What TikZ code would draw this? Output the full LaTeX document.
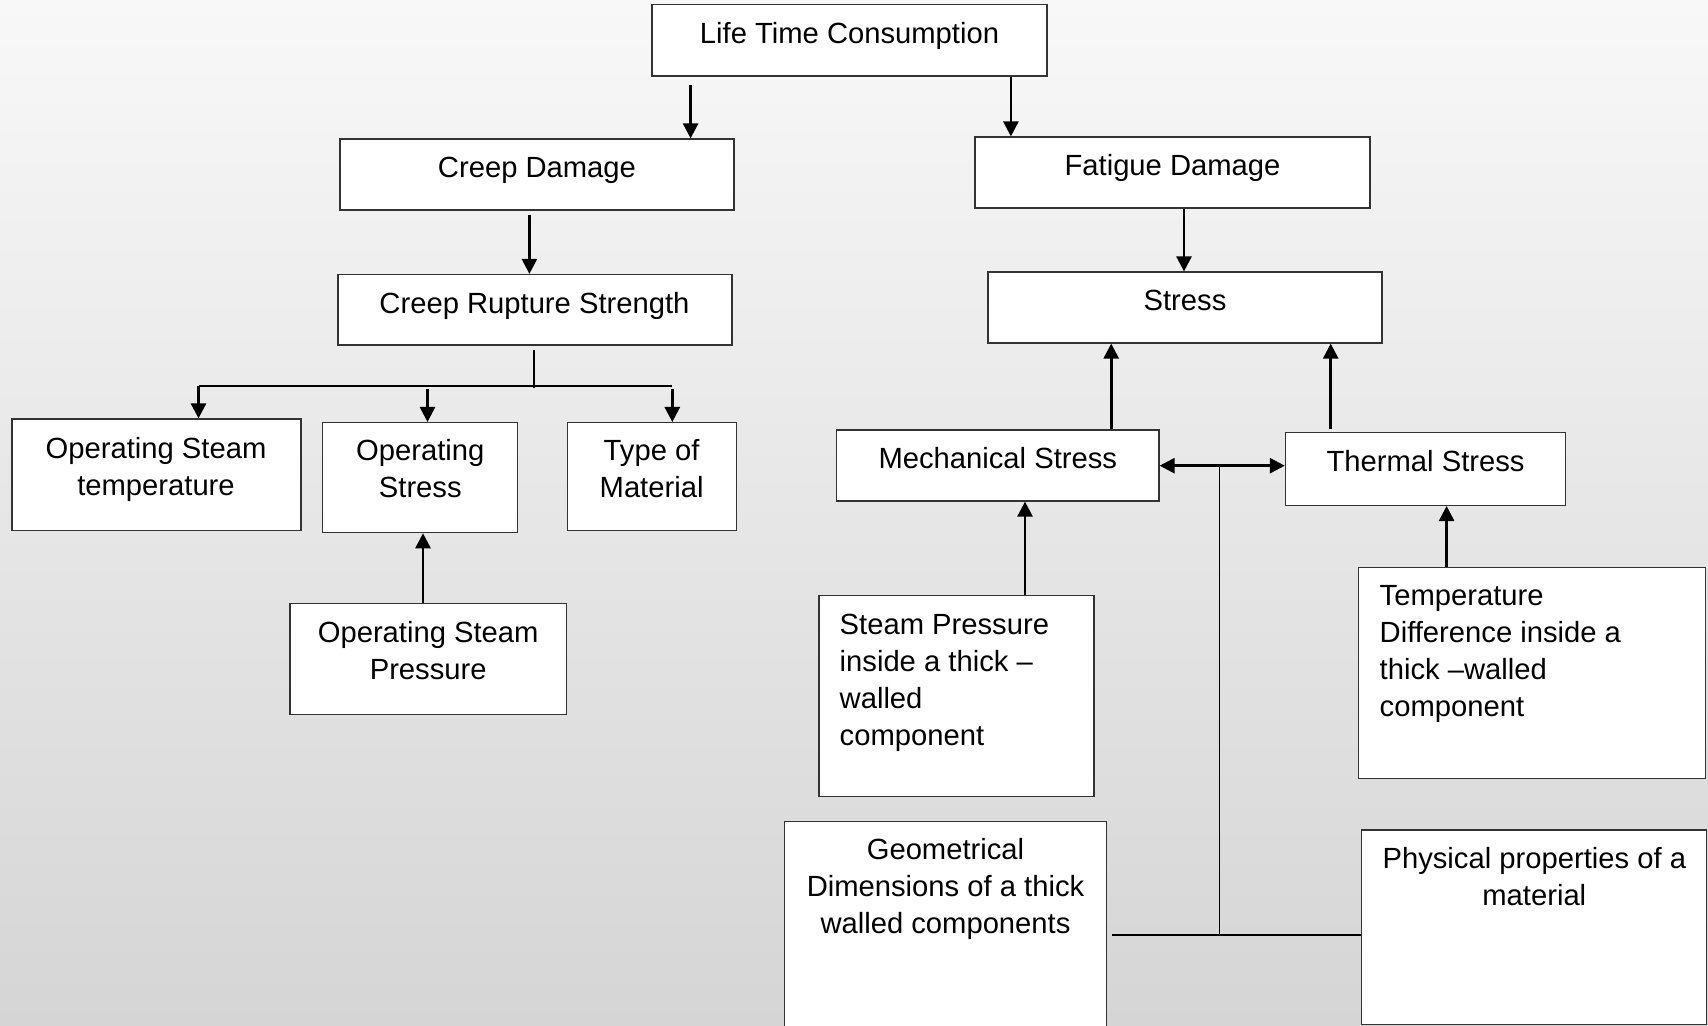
\documentclass[tikz,border=0pt]{standalone}
\usepackage{fontspec}
\setmainfont{Liberation Sans}
\usetikzlibrary{arrows.meta,fit}
\definecolor{bgtop}{RGB}{248,248,248}
\definecolor{bgbot}{RGB}{213,213,213}
\newcommand\dfont{\fontsize{14.6pt}{18.65pt}\selectfont}
\begin{document}
\begin{tikzpicture}[x=0.5pt,y=-0.5pt,
  box/.style={draw=black!80, line width=0.6pt, fill=white, inner sep=0pt},
  txt/.style={font=\dfont, inner sep=0pt, align=center, anchor=base},
  ltxt/.style={font=\dfont, inner sep=0pt, align=left, anchor=base west},
  arr/.style={line width=1.3pt, -{Triangle[length=7.5pt,width=7.5pt]}},
  darr/.style={line width=1.3pt, {Triangle[length=7.5pt,width=7.5pt]}-{Triangle[length=7.5pt,width=7.5pt]}},
  thin line/.style={line width=0.7pt},
  thick line/.style={line width=1.1pt}
]
\useasboundingbox (0,0) rectangle (1708,1026);
\clip (0,0) rectangle (1708,1026);
\shade[top color=bgtop, bottom color=bgbot] (0,0) rectangle (1708,1026);

% boxes
\node[box, fit={(652,4.5) (1047,76)}] (LTC) {};
\node[box, fit={(340,139) (734,210)}] (CD) {};
\node[box, fit={(975,137) (1370,208)}] (FD) {};
\node[box, fit={(338,274.5) (732,345)}] (CRS) {};
\node[box, fit={(988,272) (1382,343)}] (ST) {};
\node[box, fit={(12,419) (301,530.5)}] (OST) {};
\node[box, fit={(322.5,422.6) (517.5,532.7)}] (OS) {};
\node[box, fit={(567.5,422.6) (736.4,530.5)}] (TM) {};
\node[box, fit={(290,603.5) (566.4,714.6)}] (OSP) {};
\node[box, fit={(836.6,430) (1159,501)}] (MS) {};
\node[box, fit={(1285.4,432.5) (1565.3,505.4)}] (TS) {};
\node[box, fit={(819,595.7) (1094,796.3)}] (SP) {};
\node[box, fit={(1358.3,567.3) (1705.7,778.3)}] (TD) {};
\node[box, fit={(784.3,821.3) (1106.7,1040)}] (GD) {};
\node[box, fit={(1361.6,830) (1706.5,1024.5)}] (PP) {};

% texts (base anchor = baseline of last line)
\node[txt] (LTCt) at (849.5,43.3) {Life Time Consumption};
\node[txt] (CDt) at (537,178) {Creep Damage};
\node[txt] (FDt) at (1172.5,176) {Fatigue Damage};
\node[txt] (CRSt) at (534.5,313.5) {Creep Rupture Strength};
\node[txt] (STt) at (1185,311) {Stress};
\node[txt] (OSTt) at (156,495.6) {Operating Steam\\temperature};
\node[txt] (OSt) at (420.3,497.9) {Operating\\Stress};
\node[txt] (TMt) at (651.6,497.9) {Type of\\Material};
\node[txt] (OSPt) at (428.2,679.7) {Operating Steam\\Pressure};
\node[txt] (MSt) at (997.8,468) {Mechanical Stress};
\node[txt] (TSt) at (1425.6,471.4) {Thermal Stress};
\node[ltxt] (SPt) at (839.3,745.9) {Steam Pressure\\inside a thick –\\walled\\component};
\node[ltxt] (TDt) at (1379.3,716.9) {Temperature\\Difference inside a\\thick –walled\\component};
\node[txt] (GDt) at (945.5,933.8) {Geometrical\\Dimensions of a thick\\walled components};
\node[txt] (PPt) at (1534.3,905.3) {Physical properties of a\\material};

% junction coordinates
\coordinate (br) at (533.8,385.7);
\coordinate (brL) at (198.5,385.7);
\coordinate (brR) at (672.3,385.7);
\coordinate (jt) at (1219.5,465.7);
\coordinate (jb) at (1219.5,935.3);

% connectors
\draw[arr, shorten <=4pt] (690.6,0 |- LTC.south) -- (690.6,0 |- CD.north);
\draw[arr] (1010.9,0 |- LTC.south) -- (1010.9,0 |- FD.north);
\draw[arr, shorten <=2pt] (529.4,0 |- CD.south) -- (529.4,0 |- CRS.north);
\draw[arr] (1184,0 |- FD.south) -- (1184,0 |- ST.north);

\draw[thin line, shorten <=2.2pt] (br |- CRS.south) -- (533.8,388.5);
\draw[thick line] (brR) -- (brL);
\draw[arr] (brL) -- (brL |- OST.north);
\draw[arr, shorten <=1.7pt] (427.5,0 |- brL) -- (427.5,0 |- OS.north);
\draw[arr, shorten <=1.7pt] (brR) -- (brR |- TM.north);

\draw[arr] (423,0 |- OSP.north) -- (423,0 |- OS.south);
\draw[arr] (1111.2,0 |- MS.north) -- (1111.2,0 |- ST.south);
\draw[arr, shorten <=1.2pt] (1330.7,0 |- TS.north) -- (1330.7,0 |- ST.south);
\draw[darr] (MS.east |- jt) -- (TS.west |- jt);
\draw[thin line] (jt) -- (jb);
\draw[thick line, shorten <=2.3pt] (GD.east |- jb) -- (PP.west |- jb);
\draw[arr] (1025,0 |- SP.north) -- (1025,0 |- MS.south);
\draw[arr] (1446.6,0 |- TD.north) -- (1446.6,0 |- TS.south);
\end{tikzpicture}
\end{document}
